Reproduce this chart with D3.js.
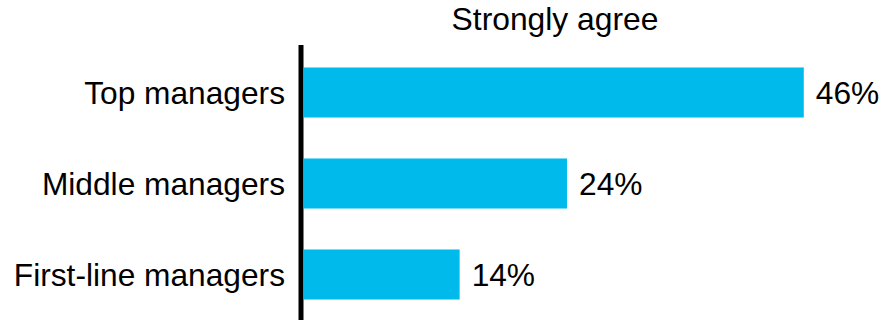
<!DOCTYPE html>
<html>
<head>
<meta charset="utf-8">
<script src="https://cdn.jsdelivr.net/npm/d3@7"></script>
<style>
	body { margin: 0; background: #fff; }
	text { font-family: "Liberation Sans", Arial, sans-serif; fill: #000; }
</style>
</head>
<body>
<svg id="chart" width="882" height="320"></svg>
<script>
var categories = ["Top managers", "Middle managers", "First-line managers"];
var values = [45.6, 24, 14.2];
var valueLabels = ["46%", "24%", "14%"];
var title = "Strongly agree";

var svg = d3.select("#chart");

var x = d3.scaleLinear().domain([0, 50]).range([304, 852]);
var y = d3.scaleBand().domain(categories).range([47, 320]).paddingInner(0.45).paddingOuter(0.225);

// title centred over the bar area
svg.append("text")
	.attr("x", 555)
	.attr("y", 30)
	.attr("text-anchor", "middle")
	.style("font-size", "31.8px")
	.text(title);

svg.selectAll("rect.bar").data(categories).enter().append("rect")
	.attr("class", "bar")
	.attr("x", x(0))
	.attr("y", function(d){ return y(d); })
	.attr("width", function(d, i){ return x(values[i]) - x(0); })
	.attr("height", y.bandwidth())
	.style("fill", "#00BAEC");

// category labels
svg.selectAll("text.cat").data(categories).enter().append("text")
	.attr("class", "cat")
	.attr("x", 285)
	.attr("y", function(d){ return y(d) + y.bandwidth() / 2; })
	.attr("dy", "0.37em")
	.attr("text-anchor", "end")
	.style("font-size", "31.7px")
	.text(function(d){ return d; });

// value labels
svg.selectAll("text.val").data(categories).enter().append("text")
	.attr("class", "val")
	.attr("x", function(d, i){ return x(values[i]) + 12; })
	.attr("y", function(d){ return y(d) + y.bandwidth() / 2; })
	.attr("dy", "0.37em")
	.style("font-size", "31.7px")
	.text(function(d, i){ return valueLabels[i]; });

// vertical axis line
svg.append("line")
	.attr("x1", 301).attr("x2", 301)
	.attr("y1", 45).attr("y2", 320)
	.attr("stroke", "#000")
	.attr("stroke-width", 5);
</script>
</body>
</html>
